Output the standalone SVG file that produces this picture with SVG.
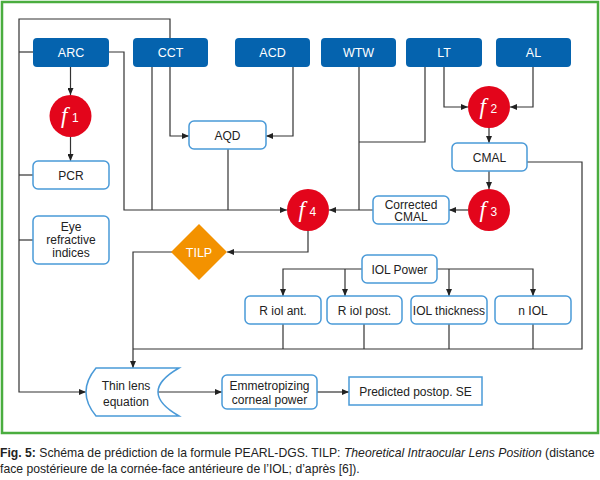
<svg xmlns="http://www.w3.org/2000/svg" width="600" height="480" viewBox="0 0 600 480">
<style>
.in{fill:#0563ae}
.in text,.int{fill:#fff;font-family:"Liberation Sans",Arial,sans-serif;font-size:12.5px;text-anchor:middle}
.bx{fill:#fff;stroke:#4a9ad8;stroke-width:1.5}
.t{fill:#222;font-family:"Liberation Sans",Arial,sans-serif;font-size:12px;text-anchor:middle}
.fc{fill:#e3051b}
.ff{fill:#fff;font-family:"Liberation Serif","Times New Roman",serif;font-style:italic;font-size:23px}
.fs{fill:#fff;font-family:"Liberation Sans",Arial,sans-serif;font-size:12px}
.c path{fill:none;stroke:#333;stroke-width:1.2}
.cap{font-family:"Liberation Sans",Arial,sans-serif;font-size:12.2px;fill:#222}
</style>
<defs>
<marker id="a" markerUnits="userSpaceOnUse" markerWidth="7" markerHeight="6" refX="7" refY="3" orient="auto">
<path d="M0,0 L7,3 L0,6 z" fill="#222"/>
</marker>
</defs>
<rect x="0" y="0" width="600" height="480" fill="#fff"/>
<rect x="2" y="2" width="596" height="431" fill="none" stroke="#4aad3f" stroke-width="2.5"/>

<g class="c">
<path d="M170,38 V19 H19 V392 H86" marker-end="url(#a)"/>
<path d="M19,52 H33"/>
<path d="M19,175 H33"/>
<path d="M19,240 H33"/>
<path d="M70.5,67 V95" marker-end="url(#a)"/>
<path d="M70.5,137 V161" marker-end="url(#a)"/>
<path d="M109,52 H124 V210 H287" marker-end="url(#a)"/>
<path d="M152,67 V210"/>
<path d="M170,67 V136 H189" marker-end="url(#a)"/>
<path d="M293,67 V136 H266" marker-end="url(#a)"/>
<path d="M228,149 V210"/>
<path d="M359,67 V210"/>
<path d="M425,67 V142 H359"/>
<path d="M373,210 H329" marker-end="url(#a)"/>
<path d="M444,67 V107 H468" marker-end="url(#a)"/>
<path d="M533,67 V107 H510" marker-end="url(#a)"/>
<path d="M489,128 V143" marker-end="url(#a)"/>
<path d="M489,171 V189" marker-end="url(#a)"/>
<path d="M468,210 H449" marker-end="url(#a)"/>
<path d="M527,162 H582 V349 H133"/>
<path d="M308,231 V252 H227" marker-end="url(#a)"/>
<path d="M172,252 H133 V368" marker-end="url(#a)"/>
<path d="M362,269 H283 V296" marker-end="url(#a)"/>
<path d="M345,269 V296" marker-end="url(#a)"/>
<path d="M437,269 H533 V296" marker-end="url(#a)"/>
<path d="M449,269 V296" marker-end="url(#a)"/>
<path d="M283,324 V349"/>
<path d="M364,324 V349"/>
<path d="M449,324 V349"/>
<path d="M533,324 V349"/>
<path d="M158,392 H222" marker-end="url(#a)"/>
<path d="M317,392 H349" marker-end="url(#a)"/>
</g>

<g id="ARC" class="in"><rect x="33" y="38" width="76" height="29" rx="4"/><text x="71" y="57">ARC</text></g>
<g id="CCT" class="in"><rect x="133" y="38" width="75" height="29" rx="4"/><text x="170.5" y="57">CCT</text></g>
<g id="ACD" class="in"><rect x="235" y="38" width="75" height="29" rx="4"/><text x="272.5" y="57">ACD</text></g>
<g id="WTW" class="in"><rect x="321" y="38" width="75" height="29" rx="4"/><text x="358.5" y="57">WTW</text></g>
<g id="LT" class="in"><rect x="406" y="38" width="76" height="29" rx="4"/><text x="444" y="57">LT</text></g>
<g id="AL" class="in"><rect x="496" y="38" width="75" height="29" rx="4"/><text x="533.5" y="57">AL</text></g>

<g id="f1"><circle class="fc" cx="70.5" cy="116" r="21"/><text class="ff" x="61" y="123">f</text><text class="fs" x="72" y="122">1</text></g>
<g id="f2"><circle class="fc" cx="489" cy="107" r="21"/><text class="ff" x="479.5" y="114">f</text><text class="fs" x="490.5" y="113">2</text></g>
<g id="f3"><circle class="fc" cx="489" cy="210" r="21"/><text class="ff" x="479.5" y="217">f</text><text class="fs" x="490.5" y="216">3</text></g>
<g id="f4"><circle class="fc" cx="308" cy="210" r="21"/><text class="ff" x="298.5" y="217">f</text><text class="fs" x="309.5" y="216">4</text></g>

<g id="PCR"><rect class="bx" x="33" y="161" width="76" height="28" rx="5"/><text class="t" x="71" y="179.5">PCR</text></g>
<g id="EyeRI"><rect class="bx" x="33" y="216" width="76" height="48" rx="5"/><text class="t" x="71" y="231">Eye</text><text class="t" x="71" y="244">refractive</text><text class="t" x="71" y="257">indices</text></g>
<g id="AQD"><rect class="bx" x="189" y="121" width="77" height="28" rx="5"/><text class="t" x="227.5" y="139.5">AQD</text></g>
<g id="CMAL"><rect class="bx" x="452" y="143" width="75" height="28" rx="5"/><text class="t" x="489.5" y="161.5">CMAL</text></g>
<g id="CCMAL"><rect class="bx" x="373" y="196" width="76" height="28" rx="5"/><text class="t" x="411" y="208.5">Corrected</text><text class="t" x="411" y="221">CMAL</text></g>
<g id="TILP"><path d="M199,224 L227,252 L199,280 L171,252 z" fill="#f39200"/><text class="int" x="199" y="256.5">TILP</text></g>
<g id="IOLPower"><rect class="bx" x="362" y="255" width="75" height="28" rx="5"/><text class="t" x="399.5" y="273.5">IOL Power</text></g>
<g id="Rant"><rect class="bx" x="245" y="296" width="76" height="28" rx="5"/><text class="t" x="283" y="314.5">R iol ant.</text></g>
<g id="Rpost"><rect class="bx" x="327" y="296" width="75" height="28" rx="5"/><text class="t" x="364.5" y="314.5">R iol post.</text></g>
<g id="IOLthick"><rect class="bx" x="411" y="296" width="76" height="28" rx="5"/><text class="t" x="449" y="314.5">IOL thickness</text></g>
<g id="nIOL"><rect class="bx" x="495" y="296" width="76" height="28" rx="5"/><text class="t" x="533" y="314.5">n IOL</text></g>
<g id="ThinLens"><path class="bx" d="M96,368 H179 Q137,392 179,416 H96 Q76,392 96,368 z"/><text class="t" x="126" y="390">Thin lens</text><text class="t" x="126" y="406">equation</text></g>
<g id="Emm"><rect class="bx" x="222" y="375" width="95" height="34" rx="5"/><text class="t" x="269.5" y="390">Emmetropizing</text><text class="t" x="269.5" y="403.5">corneal power</text></g>
<g id="Pred"><rect class="bx" x="349" y="377" width="133" height="28"/><text class="t" x="415.5" y="395.5">Predicted postop. SE</text></g>

<text class="cap" x="0" y="457"><tspan font-weight="bold">Fig. 5:</tspan> Schéma de prédiction de la formule PEARL-DGS. TILP: <tspan font-style="italic">Theoretical Intraocular Lens Position</tspan> (distance</text>
<text class="cap" x="0" y="473">face postérieure de la cornée-face antérieure de l’IOL; d’après [6]).</text>
</svg>
